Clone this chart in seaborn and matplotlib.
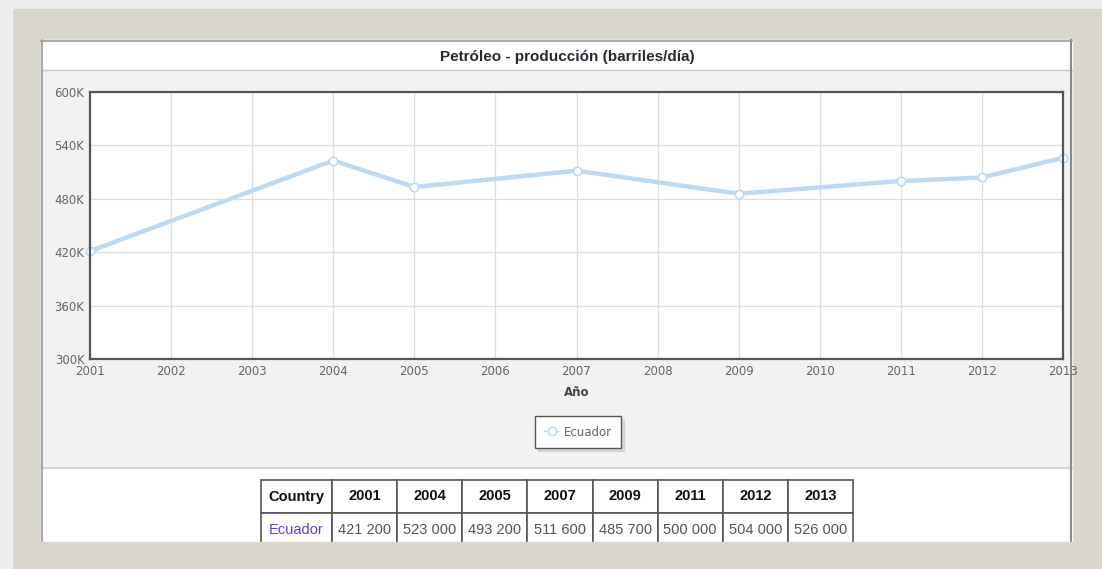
import matplotlib
matplotlib.use("Agg")
import matplotlib.pyplot as plt
import matplotlib.ticker as ticker
from matplotlib.patches import Rectangle
import seaborn as sns

### datos
anios = [2001, 2004, 2005, 2007, 2009, 2011, 2012, 2013]
produccion = [421200, 523000, 493200, 511600, 485700, 500000, 504000, 526000]
pais = "Ecuador"
titulo = "Petróleo - producción (barriles/día)"
etiqueta_x = "Año"
ticks_y = [300000, 360000, 420000, 480000, 540000, 600000]
ticks_x = list(range(2001, 2014))
encabezado = ["Country"] + [str(a) for a in anios]
fila = [pais] + [f"{v:,}".replace(",", " ") for v in produccion]

W, H = 1102, 569
azul = "#bfdaf0"

def caja(px0, py0, px1, py1):
    # convierte pixeles (origen arriba-izq) a coordenadas de figura
    return [px0 / W, 1 - py1 / H, (px1 - px0) / W, (py1 - py0) / H]

fig = plt.figure(figsize=(W / 100, H / 100), dpi=100)
fig.patch.set_facecolor("#eeeeee")

### fondo / marco
bg = fig.add_axes([0, 0, 1, 1], zorder=-10)
bg.set_xlim(0, W)
bg.set_ylim(H, 0)
bg.axis("off")
bg.add_patch(Rectangle((12, 9), W - 12, H - 9, color="#d9d6ce"))
bg.add_patch(Rectangle((41, 40), 1031, 502, color="white"))
bg.add_patch(Rectangle((41, 70), 1031, 398, color="#f2f2f2"))
bg.plot([41, 1072], [70, 70], color="#c8c8c8", lw=1)
bg.plot([41, 1072], [468, 468], color="#d0d0d0", lw=1.2)
bg.plot([42, 42], [40, 542], color="#9a9a9a", lw=1.2)
bg.plot([1071, 1071], [40, 542], color="#8a8a8a", lw=1.5)
bg.plot([41, 1072], [41, 41], color="#9a9a9a", lw=1.2)
bg.text(567, 57, titulo, ha="center", va="center", fontsize=11, fontweight="bold",
        color="#2a2a33", family="Liberation Sans")

### grafico principal
ax = fig.add_axes(caja(90, 92, 1063, 359))
ax.set_facecolor("white")
sns.lineplot(x=anios, y=produccion, ax=ax, color=azul, linewidth=3.2, marker="o",
             markersize=6, markerfacecolor="white", markeredgecolor=azul,
             markeredgewidth=1.2, label=pais, clip_on=False)

ax.set_xlim(2001, 2013)
ax.set_ylim(300000, 600000)
ax.set_xticks(ticks_x)
ax.set_yticks(ticks_y)
ax.yaxis.set_major_formatter(ticker.FuncFormatter(lambda v, p: f"{int(v / 1000)}K"))
ax.tick_params(length=0, labelsize=8.5, labelcolor="#666666", pad=4)
ax.grid(True, color="#dddddd", linewidth=0.9)
ax.set_axisbelow(True)
for s in ax.spines.values():
    s.set_color("#555555")
    s.set_linewidth(1.6)
ax.set_xlabel(etiqueta_x, fontsize=8.5, fontweight="bold", color="#444444", labelpad=6)
ax.set_ylabel("")

leg = ax.legend(loc="center", bbox_to_anchor=(578 / W, 1 - 432 / H),
                bbox_transform=fig.transFigure, fancybox=False,
                shadow={"color": "#c8c8c8", "alpha": 0.6, "ox": 2, "oy": -2},
                edgecolor="#555555", fontsize=8.5, handlelength=1.2,
                borderpad=0.8, handletextpad=0.4)
for t in leg.get_texts():
    t.set_color("#666666")
for h in leg.get_lines():
    h.set_linewidth(1.0)
leg.get_frame().set_linewidth(1.0)

### tabla
tx = fig.add_axes(caja(261, 480, 853, 546))
tx.axis("off")
anchos = [71] + [65] * len(anios)
tabla = tx.table(cellText=[fila], colLabels=encabezado, colWidths=[a / sum(anchos) for a in anchos],
                 bbox=[0, 0, 1, 1], cellLoc="center")
tabla.auto_set_font_size(False)
for (r, c), celda in tabla.get_celld().items():
    celda.set_edgecolor("#555555")
    celda.set_linewidth(1.2)
    txt = celda.get_text()
    txt.set_family("Liberation Sans")
    txt.set_fontsize(10.5)
    if r == 0:
        txt.set_fontweight("bold")
        txt.set_color("#111111")
    elif c == 0:
        txt.set_color("#5a3cf0")
    else:
        txt.set_color("#555555")

# franja inferior del marco sobre la tabla
fig.add_artist(Rectangle((0, 0), 1, 1 - 542 / H, transform=fig.transFigure,
                         color="#d9d6ce", zorder=20))
fig.add_artist(Rectangle((0, 0), 12 / W, 1, transform=fig.transFigure,
                         color="#eeeeee", zorder=21))

fig.savefig("out.png", dpi=100, facecolor=fig.get_facecolor())
